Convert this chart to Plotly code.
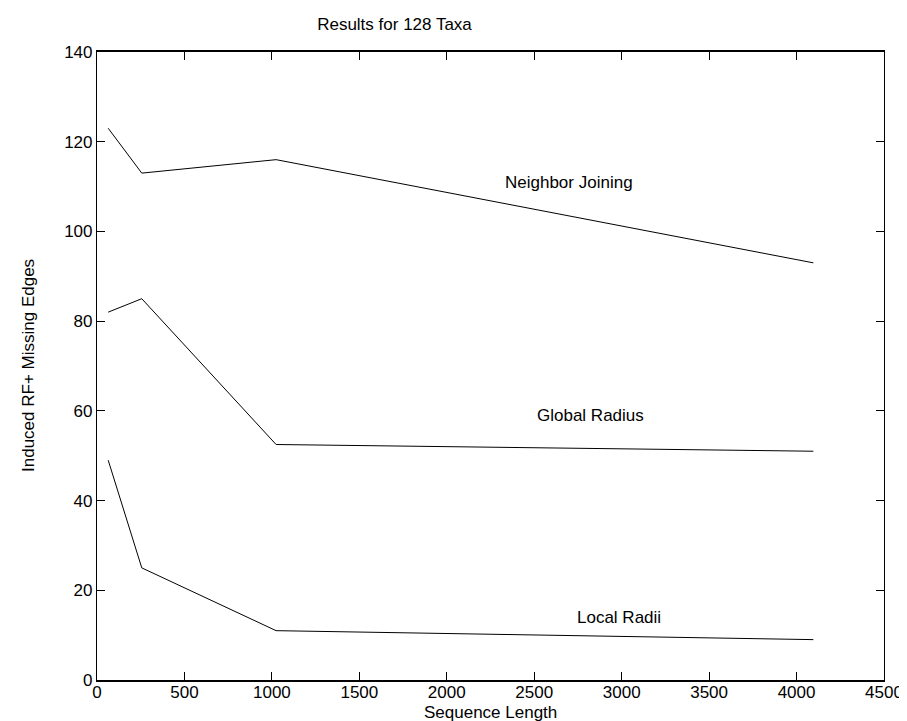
import plotly.graph_objects as go

seq_length = [64, 256, 1024, 4096]
neighbor_joining = [123, 113, 116, 93]
global_radius = [82, 85, 52.5, 51]
local_radii = [49, 25, 11, 9]

series = [
    ("Neighbor Joining", neighbor_joining, 2700, 110.8),
    ("Global Radius", global_radius, 2820, 58.9),
    ("Local Radii", local_radii, 2985, 14),
]

FONT = "Liberation Sans, Arial, Helvetica, sans-serif"
TXT = dict(family=FONT, size=17, color="black")

fig = go.Figure()
for name, vals, lx, ly in series:
    fig.add_trace(go.Scatter(x=seq_length, y=vals, mode="lines",
                             line=dict(color="black", width=1), name=name,
                             showlegend=False))
    fig.add_annotation(x=lx, y=ly, text=name, showarrow=False, font=TXT)

# axis titles as annotations for exact placement
fig.add_annotation(text="Sequence Length", xref="paper", yref="paper",
                   x=0.5, y=0, xanchor="center", yanchor="middle",
                   yshift=-32, showarrow=False, font=TXT)
fig.add_annotation(text="Induced RF+ Missing Edges", xref="paper", yref="paper",
                   x=0, y=0.5, xanchor="center", yanchor="middle", textangle=-90,
                   xshift=-69, showarrow=False, font=TXT)

axis_common = dict(showline=True, linecolor="black", mirror="ticks",
                   ticks="inside", ticklen=8, tickcolor="black", tickwidth=1,
                   showgrid=False, zeroline=False, tickfont=TXT)

fig.update_layout(
    width=907, height=721,
    margin=dict(l=89, r=23, t=44, b=49),
    paper_bgcolor="white", plot_bgcolor="white",
    font=TXT,
    title=dict(text="Results for 128 Taxa", x=386.5 / 907, xanchor="center",
               y=1 - 16 / 721, yanchor="middle", font=TXT),
    xaxis=dict(range=[0, 4500], tickvals=list(range(0, 4501, 500)),
               linewidth=1.5, ticklabelstandoff=-4, **axis_common),
    yaxis=dict(range=[0, 140], tickvals=list(range(0, 141, 20)),
               linewidth=1.2, **axis_common),
)

fig.write_html("out.html")
